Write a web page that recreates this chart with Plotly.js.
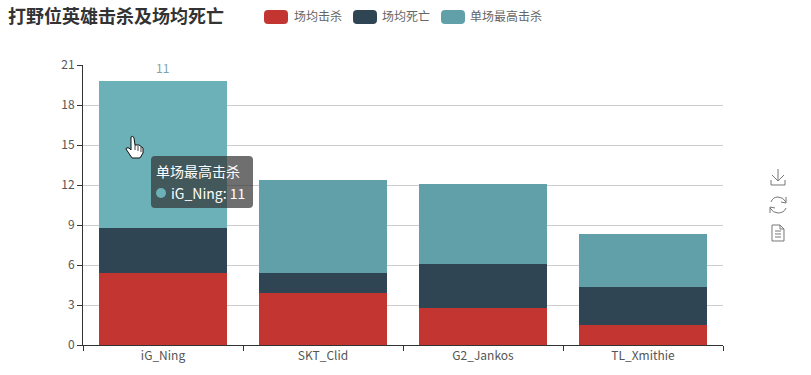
<!DOCTYPE html>
<html><head><meta charset="utf-8">
<script src="https://cdn.plot.ly/plotly-3.0.1.min.js"></script>
<style>html,body{margin:0;padding:0;background:#fff}#c{width:811px;height:375px}</style>
</head><body><div id="c"></div>
<script>
const players = ['iG_Ning','SKT_Clid','G2_Jankos','TL_Xmithie'];
const avgKills = [5.4,3.9,2.8,1.5];
const avgDeaths = [3.4,1.5,3.3,2.85];
const maxKills = [11,7,6,4];
const seriesNames = ['场均击杀','场均死亡','单场最高击杀'];
const seriesColors = ['#c23531','#2f4554','#61a0a8'];
const hoverColor = '#6bb1b7';
const yTicks = [0,3,6,9,12,15,18,21];
const FONT = '"Noto Sans CJK SC","Noto Sans",sans-serif';
const W=811,H=375,L=83,R=723,T=65,B=345;
const px=x=>(x-L)/(R-L), py=y=>(B-y)/(B-T);
function path(d){
  return d.replace(/(-?[\d.]+) (-?[\d.]+)/g,(m,a,b)=>px(+a).toFixed(5)+' '+py(+b).toFixed(5));
}
function sh(d,opt){return Object.assign({type:'path',xref:'paper',yref:'paper',path:path(d),line:{width:0}},opt);}
function rr(x0,y0,x1,y1,r){
  return `M ${x0+r} ${y0} L ${x1-r} ${y0} Q ${x1} ${y0} ${x1} ${y0+r} L ${x1} ${y1-r} Q ${x1} ${y1} ${x1-r} ${y1} L ${x0+r} ${y1} Q ${x0} ${y1} ${x0} ${y1-r} L ${x0} ${y0+r} Q ${x0} ${y0} ${x0+r} ${y0} Z`;
}
function txt(x,y,t,size,color,anchor,bold){
  return {xref:'paper',yref:'paper',x:px(x),y:py(y),text:bold?'<b>'+t+'</b>':t,showarrow:false,xanchor:anchor||'left',yanchor:'middle',
    font:{family:FONT,size:size,color:color},borderpad:0,borderwidth:0};
}
const shapes=[],annotations=[];
const legendX=[264,353,441], legendTextX=[294,382,470];
seriesNames.forEach((n,i)=>{
  shapes.push(sh(rr(legendX[i],10,legendX[i]+24,24,4),{fillcolor:seriesColors[i]}));
  annotations.push(txt(legendTextX[i],16,n,12,'#666'));
});
annotations.push({xref:'x',yref:'y',x:players[0],y:avgKills[0]+avgDeaths[0]+maxKills[0],text:String(maxKills[0]),showarrow:false,yanchor:'bottom',yshift:4,xshift:-1,
  font:{family:FONT,size:12,color:'#7ea3a8'},borderpad:0});
shapes.push(sh(rr(151,156,253,208,4),{fillcolor:'rgba(50,50,50,0.7)'}));
shapes.push({type:'circle',xref:'paper',yref:'paper',x0:px(156),x1:px(166),y0:py(198),y1:py(188),fillcolor:'#6bb1b7',line:{width:0}});
annotations.push(txt(156,171,seriesNames[2],14,'#fff'));
annotations.push(txt(171,193,players[0]+': '+maxKills[0],14,'#fff'));
const ic={line:{color:'#777',width:1},fillcolor:'rgba(0,0,0,0)'};
// download
shapes.push(sh('M 778 169 L 778 181 M 772 175 L 778 181 L 784 175 M 771 180 L 771 185 L 785 185 L 785 180',ic));
// refresh
shapes.push(sh('M 771 202 Q 773 197 778 197 Q 783 197 786 202 M 786 197 L 786 203 L 781 202',ic));
shapes.push(sh('M 786 208 Q 784 213 778 213 Q 773 213 770 208 M 770 213 L 770 207 L 775 208',ic));
// data view
shapes.push(sh('M 772 225 L 780 225 L 784 229 L 784 241 L 772 241 Z M 780 225 L 780 229 L 784 229 M 775 231 L 781 231 M 775 234 L 781 234 M 775 237 L 781 237',ic));
// hand cursor
shapes.push(sh('M 131 137 Q 133 135 134 138 L 135 145 L 139 145 L 143 148 L 143 153 L 140 158 L 132 158 L 126 149 Q 126 147 129 148 L 131 150 Z',{fillcolor:'#fff',line:{color:'#111',width:1}}));
shapes.push(sh('M 135 145 L 135 150 M 138 146 L 138 151 M 141 147 L 141 152',{line:{color:'#111',width:0.8},fillcolor:'rgba(0,0,0,0)'}));
const data=[avgKills,avgDeaths,maxKills].map((v,i)=>({
  type:'bar',name:seriesNames[i],x:players,y:v,width:0.8,
  marker:{color:i===2?players.map((p,k)=>k===0?hoverColor:seriesColors[2]):seriesColors[i],line:{width:0}},
  hoverinfo:'none',showlegend:false
}));
const layout={
  width:W,height:H,barmode:'stack',showlegend:false,paper_bgcolor:'#fff',plot_bgcolor:'#fff',
  margin:{l:L,r:W-R,t:T,b:H-B,pad:0},
  title:{text:'<b>打野位英雄击杀及场均死亡</b>',x:8/W,xref:'container',xanchor:'left',y:1-17/H,yref:'container',yanchor:'middle',font:{family:FONT,size:18,color:'#333'}},
  font:{family:FONT,color:'#555',size:12},
  xaxis:{type:'category',tickson:'boundaries',ticks:'outside',ticklen:5,tickwidth:1,tickcolor:'#333',showline:true,linecolor:'#333',linewidth:1,showgrid:false,tickfont:{family:FONT,size:12,color:'#555'},zeroline:false},
  yaxis:{range:[0,21],tickmode:'array',tickvals:yTicks,ticktext:yTicks.map(String),ticks:'outside',ticklen:5,tickwidth:1,tickcolor:'#333',showline:true,linecolor:'#333',linewidth:1,gridcolor:'#ccc',gridwidth:1,zeroline:false,tickfont:{family:FONT,size:12,color:'#555'}},
  shapes,annotations
};
Plotly.newPlot('c',data,layout,{displayModeBar:false,responsive:false});
</script></body></html>
